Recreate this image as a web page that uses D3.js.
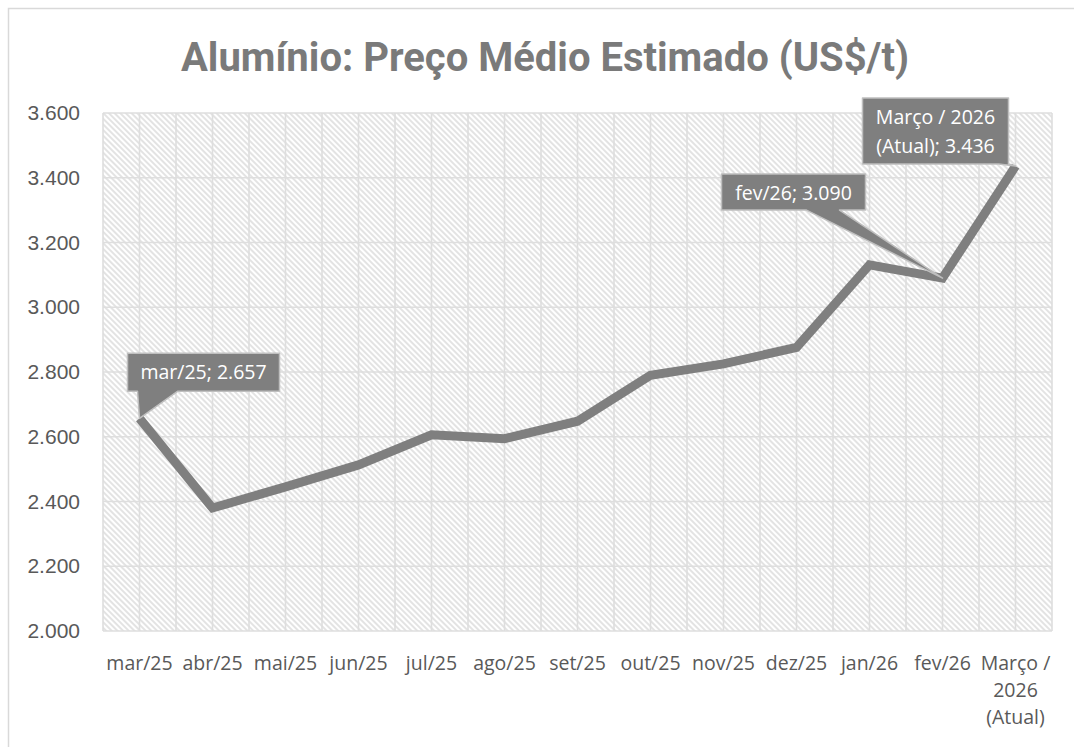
<!DOCTYPE html>
<html>
<head>
<meta charset="utf-8">
<script src="https://cdn.jsdelivr.net/npm/d3@7"></script>
<style>
  body { margin: 0; background: #fff; }
  svg { display: block; font-family: "Open Sans", "Noto Sans", sans-serif; }
</style>
</head>
<body>
<svg id="chart" width="1074" height="747"></svg>
<script>
// data
const categories = ["mar/25", "abr/25", "mai/25", "jun/25", "jul/25", "ago/25", "set/25",
                    "out/25", "nov/25", "dez/25", "jan/26", "fev/26", "Março / 2026 (Atual)"];
const prices = [2657, 2380, 2445, 2513, 2606, 2594, 2648, 2790, 2825, 2876, 3131, 3090, 3436];
const yTicks = [2000, 2200, 2400, 2600, 2800, 3000, 3200, 3400, 3600];
const xTickLines = [["mar/25"], ["abr/25"], ["mai/25"], ["jun/25"], ["jul/25"], ["ago/25"], ["set/25"],
                    ["out/25"], ["nov/25"], ["dez/25"], ["jan/26"], ["fev/26"], ["Março /", "2026", "(Atual)"]];
const labelled = [0, 11, 12];

const width = 1074, height = 747;
const margin = { top: 113, right: 22, bottom: 116, left: 103 };
const fmt = v => d3.format(",")(v).replace(/,/g, ".");

const svg = d3.select("#chart");

// outer frame
svg.append("rect")
  .attr("x", 8.5).attr("y", 8.5)
  .attr("width", width + 20).attr("height", height + 20)
  .attr("fill", "#fff").attr("stroke", "#d9d9d9").attr("stroke-width", 1.5);

// hatch pattern for the plot area
const defs = svg.append("defs");
const pat = defs.append("pattern")
  .attr("id", "hatch")
  .attr("patternUnits", "userSpaceOnUse")
  .attr("width", 4).attr("height", 4)
  .attr("patternTransform", "rotate(-45)");
pat.append("rect").attr("width", 4).attr("height", 4).attr("fill", "#fff");
pat.append("line")
  .attr("x1", 1).attr("y1", 0).attr("x2", 1).attr("y2", 4)
  .attr("stroke", "#d4d4d4").attr("stroke-width", 1.3);

const x = d3.scaleBand()
  .domain(categories)
  .range([margin.left, width - margin.right]);

const y = d3.scaleLinear()
  .domain([2000, 3600])
  .range([height - margin.bottom, margin.top]);

const cx = c => x(c) + x.bandwidth() / 2;

// title
svg.append("text")
  .attr("x", 545).attr("y", 71)
  .attr("text-anchor", "middle")
  .attr("fill", "#7a7a7a")
  .style("font-family", "Roboto, 'Open Sans', sans-serif")
  .style("font-size", "40px").style("font-weight", "bold")
  .text("Alumínio: Preço Médio Estimado (US$/t)");

// plot background
svg.append("rect")
  .attr("x", margin.left).attr("y", margin.top)
  .attr("width", width - margin.left - margin.right)
  .attr("height", height - margin.top - margin.bottom)
  .attr("fill", "url(#hatch)");

// vertical grid: category edges and centres
const grid = svg.append("g").attr("stroke", "#dedede").attr("stroke-width", 1.6);
const vLines = [];
categories.forEach(c => { vLines.push(x(c)); vLines.push(cx(c)); });
vLines.push(width - margin.right);
grid.selectAll("line.v").data(vLines).join("line")
  .attr("class", "v")
  .attr("x1", d => d).attr("x2", d => d)
  .attr("y1", margin.top).attr("y2", height - margin.bottom);

grid.selectAll("line.h").data(yTicks).join("line")
  .attr("class", "h")
  .attr("x1", margin.left).attr("x2", width - margin.right)
  .attr("y1", d => y(d)).attr("y2", d => y(d));

// y axis labels
const yAxis = svg.append("g")
  .attr("transform", `translate(${margin.left - 21},0)`)
  .call(d3.axisLeft(y).tickValues(yTicks).tickFormat(fmt).tickSize(0).tickPadding(2));
yAxis.select(".domain").remove();
yAxis.selectAll("text")
  .attr("fill", "#595959")
  .style("font-size", "21px")
  .style("font-family", "'Liberation Sans', Arial, sans-serif");

// x axis labels
const xl = svg.append("g").selectAll("text").data(categories).join("text")
  .attr("x", d => cx(d))
  .attr("y", 670)
  .attr("text-anchor", "middle")
  .attr("fill", "#595959")
  .style("font-size", "19.5px");
xl.each(function(d, i) {
  const t = d3.select(this);
  xTickLines[i].forEach((s, k) => {
    t.append("tspan").attr("x", cx(d)).attr("dy", k === 0 ? 0 : 27).text(s);
  });
});

// line
const line = d3.line()
  .x((d, i) => cx(categories[i]))
  .y(d => y(d));

svg.append("path")
  .datum(prices)
  .attr("d", line)
  .attr("fill", "none")
  .attr("stroke", "#7f7f7f")
  .attr("stroke-width", 9)
  .attr("stroke-linejoin", "miter");

// data label callouts (box offsets relative to the point)
const callouts = {
  0:  { bx: -12, by: -65, w: 152, h: 38, p0: 10, p1: 50, lines: ["mar/25; " + fmt(prices[0])] },
  11: { bx: -221, by: -104, w: 144, h: 36, p0: 85, p1: 118, lines: ["fev/26; " + fmt(prices[11])] },
  12: { bx: -153, by: -68, w: 146, h: 66, p0: 136, p1: 146, lines: ["Março / 2026", "(Atual); " + fmt(prices[12])] }
};

const cg = svg.append("g");
labelled.forEach(i => {
  const c = callouts[i];
  const px = cx(categories[i]), py = y(prices[i]);
  const x0 = px + c.bx, y0 = py + c.by, x1 = x0 + c.w, y1 = y0 + c.h;
  const path = `M${x0},${y0}H${x1}V${y1}H${x0 + c.p1}L${px},${py}L${x0 + c.p0},${y1}H${x0}Z`;
  cg.append("path")
    .attr("d", path)
    .attr("fill", "#7f7f7f")
    .attr("stroke", "#bfbfbf")
    .attr("stroke-width", 1.5)
    .attr("stroke-linejoin", "round");
  const t = cg.append("text")
    .attr("fill", "#fff")
    .attr("text-anchor", "middle")
    .style("font-size", "19.5px");
  c.lines.forEach((s, k) => {
    t.append("tspan")
      .attr("x", (x0 + x1) / 2)
      .attr("y", y0 + 26 + k * 29)
      .text(s);
  });
});
</script>
</body>
</html>
